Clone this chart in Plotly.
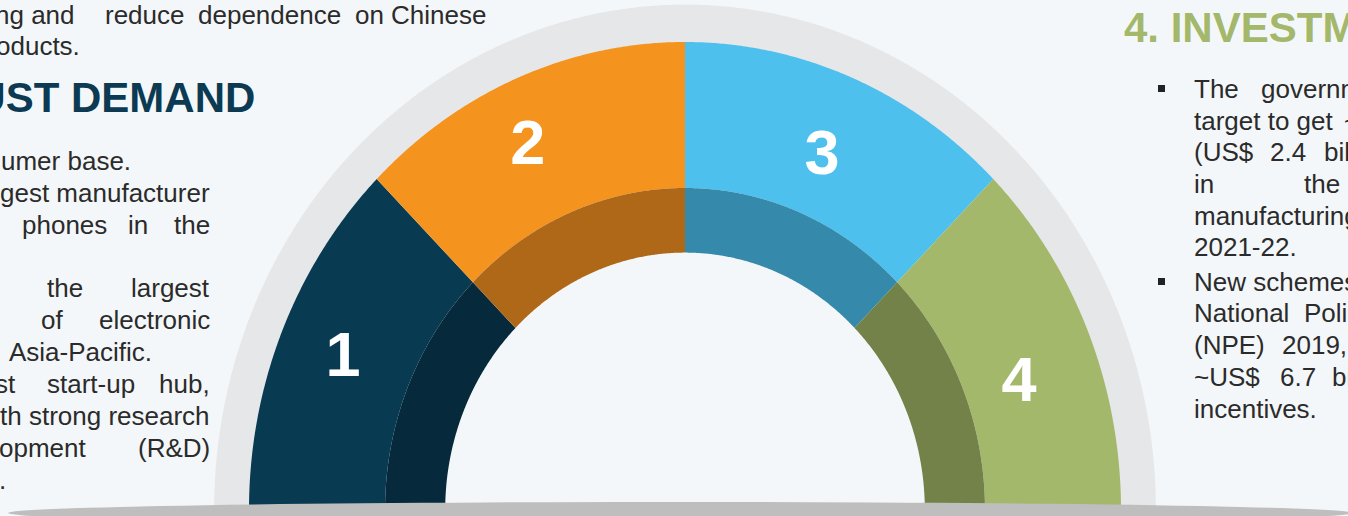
import numpy as np
import plotly.graph_objects as go

# ---- data -------------------------------------------------------------
segment_labels = ["1", "2", "3", "4"]
segment_shares = [1, 1, 1, 1]          # four equal quarters of the half-dial
segment_colors = ["#083A52", "#F5931F", "#4EC0EE", "#A3B86A"]
segment_shades = ["#062A3B", "#AF6817", "#3589AA", "#738248"]

# label placement on the dial (degrees, fraction of outer radius)
label_angles = [157.8, 115.0, 67.3, 19.2]
label_radii = [0.847, 0.853, 0.815, 0.811]

# ---- geometry / style -------------------------------------------------
W, H = 1348, 516
CX, CY = 685, 510              # dial centre in pixels
RX, RY = 436, 468              # pixel size of one radius unit (x, y)
R_RING = 1.08                  # outer grey rim
R_OUT = 1.0                    # coloured band outer edge
R_MID = 0.688                  # shaded band outer edge
R_IN = 0.55                    # hole

BG = "#F4F7F9"
RING = "#E6E7E8"
TEXT = "#2B2B2B"
FONT = "Liberation Sans, Arial, sans-serif"


def annulus(a0, a1, r0, r1, n=160):
    t = np.radians(np.linspace(a0, a1, n))
    xs = np.concatenate([r1 * np.cos(t), r0 * np.cos(t[::-1])])
    ys = np.concatenate([r1 * np.sin(t), r0 * np.sin(t[::-1])])
    return np.append(xs, xs[0]), np.append(ys, ys[0])


fig = go.Figure()

# grey rim behind the dial
x, y = annulus(0, 180, R_OUT - 0.01, R_RING, 300)
fig.add_trace(go.Scatter(x=x, y=y, fill="toself", fillcolor=RING, mode="none",
                         hoverinfo="skip", showlegend=False))

# coloured quarters, from the left end of the dial to the right
total = sum(segment_shares)
start = 180.0
for share, col, shade in zip(segment_shares, segment_colors, segment_shades):
    span = 180.0 * share / total
    end = start - span
    x, y = annulus(end, start, R_MID, R_OUT)
    fig.add_trace(go.Scatter(x=x, y=y, fill="toself", fillcolor=col, mode="none",
                             hoverinfo="skip", showlegend=False))
    x, y = annulus(end, start, R_IN, R_MID)
    fig.add_trace(go.Scatter(x=x, y=y, fill="toself", fillcolor=shade, mode="none",
                             hoverinfo="skip", showlegend=False))
    start = end

# segment numbers
lx = [r * np.cos(np.radians(a)) for a, r in zip(label_angles, label_radii)]
ly = [r * np.sin(np.radians(a)) for a, r in zip(label_angles, label_radii)]
fig.add_trace(go.Scatter(x=lx, y=ly, mode="text", text=segment_labels,
                         textfont=dict(family=FONT, size=63, color="white", weight="bold"),
                         textposition="middle center", hoverinfo="skip", showlegend=False))


def px(v):
    return v / W


def py(v):
    return 1 - v / H


annotations = []


def word(text, x, y, anchor="left", size=26, color=TEXT, bold=False):
    annotations.append(dict(
        text=f"<b>{text}</b>" if bold else text,
        x=px(x), y=py(y), xref="paper", yref="paper",
        xanchor=anchor, yanchor="middle", showarrow=False,
        font=dict(family=FONT, size=size, color=color)))


# left text column (justified, clipped by the page edge)
word("ng and", 77, 15, "right")
word("reduce", 103, 15)
word("dependence", 196, 15)
word("on", 353, 15)
word("Chinese", 488, 15, "right")
word("oducts.", 82, 46, "right")
word("ROBUST DEMAND", 257, 97, "right", size=42, color="#0B3A52", bold=True)
word("umer base.", 133, 161, "right")
word("gest manufacturer", 212, 193, "right")
word("phones", 20, 225)
word("in", 150, 225, "right")
word("the", 212, 225, "right")
word("the", 45, 288)
word("largest", 212, 288, "right")
word("of", 39, 320)
word("electronic", 212, 320, "right")
word("Asia-Pacific.", 7, 352)
word("st", 18, 384, "right")
word("start-up", 45, 384)
word("hub,", 212, 384, "right")
word("th strong research", 212, 416, "right")
word("opment", 88, 448, "right")
word("(R&D)", 212, 448, "right")
word(".", -3, 480)

# right text column
word("4. INVESTMENTS", 1122, 28, size=42, color="#A3B86A", bold=True)
word("The", 1192, 89)
word("government", 1259, 89)
word("target to get", 1192, 121)
word("~", 1342, 121)
word("(US$", 1192, 152)
word("2.4", 1268, 152)
word("billion)", 1322, 152)
word("in", 1192, 184)
word("the", 1302, 184)
word("manufacturing", 1192, 216)
word("2021-22.", 1192, 247)
word("New schemes", 1192, 282)
word("National", 1192, 313)
word("Policy", 1302, 313)
word("(NPE)", 1192, 345)
word("2019,", 1280, 345)
word("~US$", 1192, 377)
word("6.7", 1278, 377)
word("billion", 1330, 377)
word("incentives.", 1192, 409)

shapes = []
# bullet squares
for by in (85, 278):
    shapes.append(dict(type="rect", xref="paper", yref="paper",
                       x0=px(1158), x1=px(1165), y0=py(by), y1=py(by + 7),
                       fillcolor="#222222", line=dict(width=0)))
# grey base plate under the dial
shapes.append(dict(type="circle", xref="paper", yref="paper",
                   x0=px(8), x1=px(1352), y0=py(502), y1=py(524),
                   fillcolor="#BEBEBE", line=dict(width=0), layer="above"))

fig.update_layout(
    width=W, height=H,
    margin=dict(l=0, r=0, t=0, b=0),
    paper_bgcolor=BG, plot_bgcolor=BG,
    xaxis=dict(range=[-CX / RX, (W - CX) / RX], visible=False, fixedrange=True),
    yaxis=dict(range=[-(H - CY) / RY, CY / RY], visible=False, fixedrange=True),
    annotations=annotations,
    shapes=shapes,
    showlegend=False,
)

fig.write_html("out.html")
